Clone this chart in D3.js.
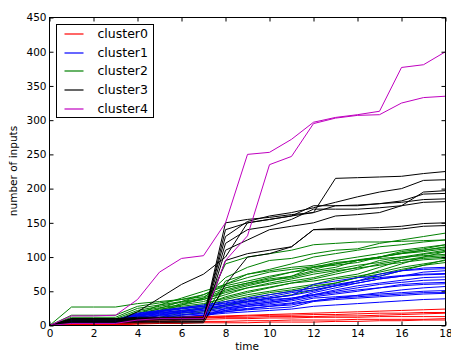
<!DOCTYPE html>
<html>
<head>
<meta charset="utf-8">
<script src="https://cdn.jsdelivr.net/npm/d3@7"></script>
<style>
  html, body { margin: 0; padding: 0; background: #fff; }
  text { font-family: "DejaVu Sans", sans-serif; fill: #000; }
</style>
</head>
<body>
<div id="chart"></div>
<script>
// time steps
const times = [0,1,2,3,4,5,6,7,8,9,10,11,12,13,14,15,16,17,18];
const xTicks = [0,2,4,6,8,10,12,14,16,18];
const yTicks = [0,50,100,150,200,250,300,350,400,450];
const clusterNames = ['cluster0','cluster1','cluster2','cluster3','cluster4'];
const clusterColors = ['#ff0000','#0000ff','#008000','#000000','#bf00bf'];

// cluster0 (red)
const cluster0 = [
  [0,2,2,2,10,11,12,13,14,15,16,17,18,19,20,21,22,23,24],
  [0,1,1,1,8,10,11,12,13,14,15,15,16,16,17,18,18,19,19],
  [0,2,2,2,6,8,10,11,12,12,13,13,13,14,14,15,16,17,18],
  [0,1,1,1,4,6,8,9,10,10,11,11,12,12,12,13,13,13,13],
  [0,0,0,0,3,4,5,6,6,7,7,8,8,8,9,9,9,9,10],
  [0,1,1,1,2,3,3,4,4,4,5,5,5,6,6,7,7,8,8]
];
// cluster1 (blue)
const cluster1 = [
  [0,8,8,8,18,22,26,30,35,40,45,50,55,60,65,75,80,84,85],
  [0,7,7,7,16,20,24,28,33,38,42,48,52,58,62,68,72,78,80],
  [0,6,6,6,15,19,22,26,30,35,40,44,50,58,65,70,73,75,76],
  [0,5,5,5,14,18,21,24,28,32,36,40,45,50,55,60,63,66,67],
  [0,5,5,5,12,16,19,22,26,30,34,38,44,48,52,55,58,60,61],
  [0,4,4,4,12,15,18,20,24,28,30,33,40,42,44,46,48,50,51],
  [0,4,4,4,10,14,16,18,22,25,28,30,36,40,42,44,46,48,48],
  [0,3,3,3,10,12,15,17,20,23,25,27,35,38,40,42,44,46,47],
  [0,3,3,3,8,11,13,15,18,20,22,24,28,30,32,34,36,38,39],
  [0,2,2,2,8,10,12,14,25,30,34,38,48,55,62,68,72,74,75],
  [0,2,2,2,7,9,11,13,22,28,32,36,42,46,50,55,60,62,63],
  [0,6,6,6,14,17,20,24,30,34,38,40,45,52,58,62,66,70,71],
  [0,1,1,1,6,9,12,15,20,24,28,32,36,40,44,48,52,55,57],
  [0,7,7,7,17,21,25,28,32,36,40,44,60,65,70,72,80,82,83]
];
// cluster2 (green)
const cluster2 = [
  [0,27,27,27,32,35,38,42,55,62,68,72,80,85,95,100,108,112,118],
  [0,15,15,15,28,33,38,45,60,75,82,90,100,105,110,115,118,122,125],
  [0,12,12,12,25,30,35,40,70,85,95,98,105,110,112,120,125,130,135],
  [0,10,10,10,22,28,34,38,50,58,65,72,85,92,95,100,105,110,115],
  [0,8,8,8,20,26,30,35,45,55,60,65,70,78,85,95,100,105,110],
  [0,6,6,6,18,24,28,32,40,48,55,62,68,75,82,90,95,100,102],
  [0,5,5,5,15,22,26,30,42,50,56,62,65,70,75,85,95,98,100],
  [0,4,4,4,12,20,25,28,38,45,50,55,60,68,72,78,85,90,95],
  [0,3,3,3,10,18,22,26,35,42,48,52,58,62,70,75,82,88,92],
  [0,2,2,2,8,15,20,25,90,100,105,110,118,120,122,122,123,124,125],
  [0,2,2,2,6,12,18,22,30,38,45,50,55,62,70,80,90,100,108],
  [0,1,1,1,5,10,15,20,28,35,40,45,52,58,65,72,80,88,96],
  [0,8,8,8,10,11,11,12,65,75,80,85,88,95,100,105,110,114,118],
  [0,6,6,6,8,9,10,10,55,62,70,78,85,88,92,100,105,108,112],
  [0,10,10,10,14,20,30,40,52,60,66,70,78,82,88,92,98,104,108],
  [0,4,4,4,14,25,35,45,58,65,72,78,82,90,95,98,100,102,104],
  [0,5,5,5,16,30,40,50,60,70,78,82,86,90,96,100,106,110,114],
  [0,3,3,3,12,22,32,38,48,55,62,68,75,80,84,88,92,96,98]
];
// cluster3 (black)
const cluster3 = [
  [0,8,8,8,10,10,10,10,150,155,158,162,165,215,216,217,218,222,225],
  [0,10,10,10,12,12,12,12,130,152,160,165,172,180,188,195,200,212,213],
  [0,5,5,5,20,40,60,75,100,150,155,160,165,175,175,178,182,192,193],
  [0,10,10,10,10,10,10,10,120,140,145,155,170,170,170,172,175,180,181],
  [0,6,6,6,6,6,6,6,110,125,140,145,150,160,162,165,175,195,197],
  [0,7,7,7,8,8,8,8,95,105,110,115,140,142,142,143,145,149,150],
  [0,4,4,4,4,4,4,4,60,100,105,115,140,140,140,140,141,145,146],
  [0,9,9,9,9,9,9,9,140,150,155,160,175,175,176,178,180,184,185]
];
// cluster4 (magenta)
const cluster4 = [
  [0,14,14,15,38,78,98,102,150,250,253,272,297,304,308,313,377,381,400],
  [0,3,3,3,8,10,10,10,95,131,235,247,295,303,307,308,325,333,335]
];

const W = 451, H = 351;
const margin = { top: 17.5, left: 49.5 };
const width = 396;
const height = 308;

const svg = d3.select('#chart').append('svg')
  .attr('width', W).attr('height', H);

const g = svg.append('g')
  .attr('transform', `translate(${margin.left},${margin.top})`);

const x = d3.scaleLinear().domain([0, 18]).range([0, width]);
const y = d3.scaleLinear().domain([0, 450]).range([height, 0]);

g.append('clipPath').attr('id', 'clip')
  .append('rect').attr('width', width).attr('height', height);

const line = d3.line()
  .x((d, i) => x(times[i]))
  .y(d => y(d));

// draw order: green, blue, red, black, magenta
const drawOrder = [
  { data: cluster2, c: 2 },
  { data: cluster1, c: 1 },
  { data: cluster0, c: 0 },
  { data: cluster3, c: 3 },
  { data: cluster4, c: 4 }
];
const lines = g.append('g').attr('clip-path', 'url(#clip)');
drawOrder.forEach(grp => {
  lines.selectAll(null)
    .data(grp.data)
    .enter().append('path')
    .attr('d', line)
    .attr('fill', 'none')
    .attr('stroke', clusterColors[grp.c])
    .attr('stroke-width', 1);
});

// axes: ticks inward on all sides
const fs = 10.5;
const xb = g.append('g').attr('transform', `translate(0,${height})`)
  .call(d3.axisBottom(x).tickValues(xTicks).tickSizeInner(-4).tickSizeOuter(0).tickPadding(4));
const xt = g.append('g')
  .call(d3.axisTop(x).tickValues(xTicks).tickSizeInner(-4).tickSizeOuter(0).tickFormat(''));
const yl = g.append('g')
  .call(d3.axisLeft(y).tickValues(yTicks).tickSizeInner(-4).tickSizeOuter(0).tickPadding(3));
const yr = g.append('g').attr('transform', `translate(${width},0)`)
  .call(d3.axisRight(y).tickValues(yTicks).tickSizeInner(-4).tickSizeOuter(0).tickFormat(''));
[xb, xt, yl, yr].forEach(a => {
  a.select('.domain').remove();
  a.selectAll('line').attr('stroke', '#000');
  a.selectAll('text').style('font-size', fs + 'px').attr('font-family', null);
});

g.append('rect')
  .attr('width', width).attr('height', height)
  .attr('fill', 'none').attr('stroke', '#000').attr('stroke-width', 1);

// axis labels
svg.append('text')
  .attr('x', 247).attr('y', 350)
  .attr('text-anchor', 'middle').style('font-size', fs + 'px')
  .text('time');
svg.append('text')
  .attr('transform', `translate(17,171) rotate(-90)`)
  .attr('text-anchor', 'middle').style('font-size', fs + 'px')
  .text('number of inputs');

// legend
const leg = svg.append('g').attr('transform', 'translate(56.5,24.5)');
leg.append('rect')
  .attr('width', 97).attr('height', 93)
  .attr('fill', '#fff').attr('stroke', '#000').attr('stroke-width', 1);
clusterNames.forEach((name, i) => {
  const cy = 9 + i * 18.7;
  leg.append('line')
    .attr('x1', 8).attr('x2', 27).attr('y1', Math.round(cy) + 0.5).attr('y2', Math.round(cy) + 0.5)
    .attr('stroke', clusterColors[i]).attr('stroke-width', 1.2);
  leg.append('text')
    .attr('x', 41).attr('y', cy).attr('dy', '0.36em')
    .style('font-size', '12.5px')
    .text(name);
});
</script>
</body>
</html>
